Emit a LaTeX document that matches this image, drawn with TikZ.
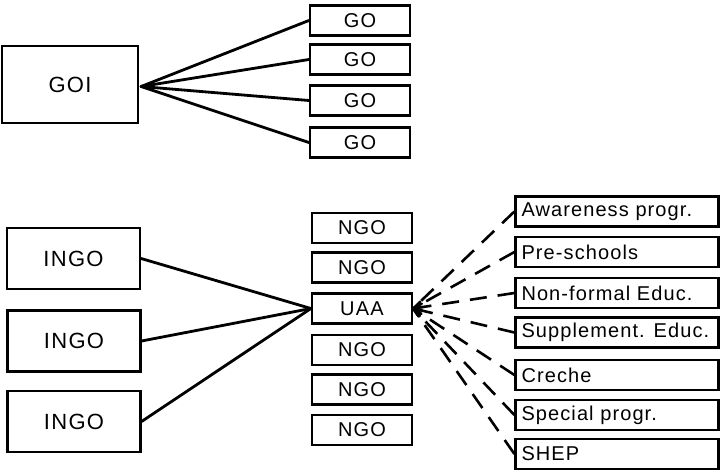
\documentclass[tikz,border=0pt]{standalone}
\usepackage{fontspec}
\setmainfont{Liberation Sans}
\newfontfamily\boxfont[LetterSpace=6]{Liberation Sans}
\newfontfamily\progfont[LetterSpace=5.5]{Liberation Sans}
\usetikzlibrary{calc}
\newcommand{\proglabel}[1]{\makebox[191pt][l]{#1}}
\begin{document}
\begin{tikzpicture}[x=1pt,y=-1pt,
  box/.style={draw, line width=2.2pt, inner sep=0pt, font=\boxfont\fontsize{20}{22}\selectfont},
  bigbox/.style={box, font=\boxfont\fontsize{22}{24}\selectfont},
  smallbox/.style={box, minimum width=100pt, minimum height=30pt},
  progbox/.style={draw, line width=2.2pt, inner ysep=0pt, inner xsep=6pt, minimum height=30pt, font=\progfont\fontsize{20}{22}\selectfont},
  solidline/.style={line width=2.8pt, line cap=round},
  dashline/.style={line width=2.6pt, dash pattern=on 17pt off 11pt},
  stubline/.style={line width=2.4pt, line cap=round}
]
\useasboundingbox (0,0) rectangle (720,473);
% top group
\node[bigbox, minimum width=136pt, minimum height=77pt] (goi) at (70,84.5) {GOI};
\node[smallbox] (go1) at (360,20.5) {GO};
\node[smallbox] (go2) at (360,59.5) {GO};
\node[smallbox] (go3) at (360,100.5) {GO};
\node[smallbox] (go4) at (360,142.5) {GO};
\coordinate (goiC) at ($(goi.east)+(2,2)$);
\foreach \g in {go1,go2,go3,go4}{\draw[solidline] (goiC) -- (\g.west);}
% bottom left
\node[bigbox, minimum width=133pt, minimum height=61pt] (ingo1) at (73.5,258.5) {INGO};
\node[bigbox, minimum width=133pt, minimum height=61pt] (ingo2) at (74,341) {INGO};
\node[bigbox, minimum width=133pt, minimum height=61pt] (ingo3) at (74,421.5) {INGO};
% middle column
\node[smallbox] (ngo1) at (362,228) {NGO};
\node[smallbox] (ngo2) at (362,267.5) {NGO};
\node[smallbox] (uaa) at (362,308.5) {UAA};
\node[smallbox] (ngo4) at (362,350) {NGO};
\node[smallbox] (ngo5) at (362,389.5) {NGO};
\node[smallbox] (ngo6) at (362,430) {NGO};
\foreach \i in {ingo1,ingo2,ingo3}{\draw[solidline] (\i.east) -- (uaa.west);}
% right column
\node[progbox] (p1) at (617,211.5) {\proglabel{Awareness progr.}};
\node[progbox] (p2) at (617,252) {\proglabel{Pre-schools}};
\node[progbox] (p3) at (617,293) {\proglabel{Non-formal Educ.}};
\node[progbox] (p4) at (617,332.5) {\proglabel{Supplement. Educ.}};
\node[progbox] (p5) at (617,375) {\proglabel{Creche}};
\node[progbox] (p6) at (617,415) {\proglabel{Special progr.}};
\node[progbox] (p7) at (617,454) {\proglabel{SHEP}};
\foreach \p in {p1,p2,p3,p4,p5,p6,p7}{
  \draw[dashline] (\p.west) -- (uaa.east);
  \draw[stubline] (uaa.east) -- ($(uaa.east)!10pt!(\p.west)$);
}
\end{tikzpicture}
\end{document}
